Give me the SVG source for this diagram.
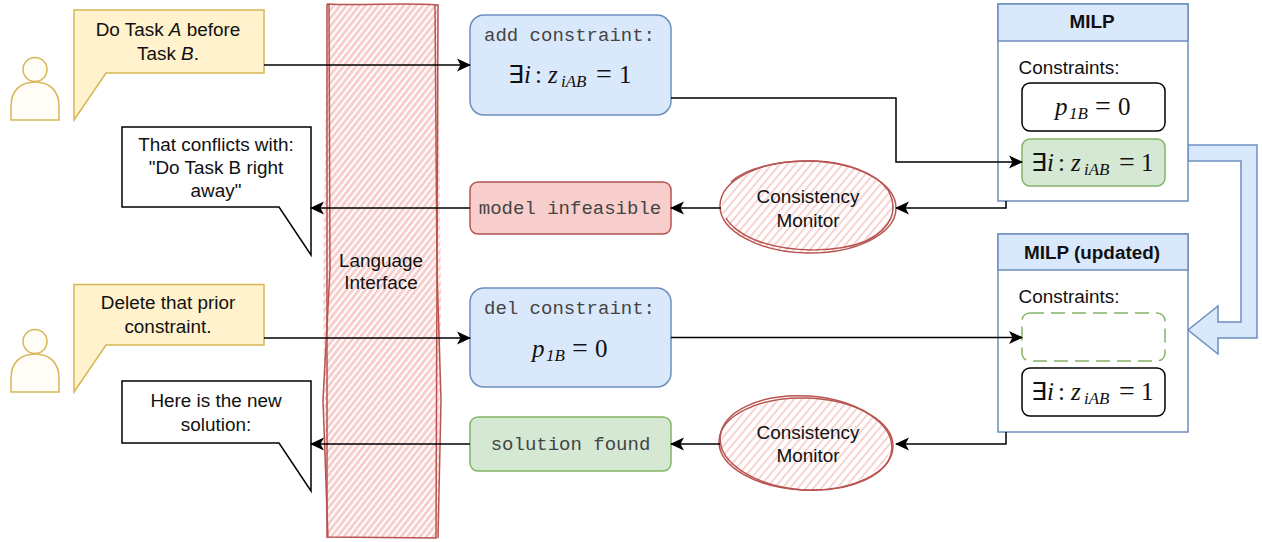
<svg xmlns="http://www.w3.org/2000/svg" width="1262" height="542" viewBox="0 0 1262 542">
<style>
text{font-family:"Liberation Sans",Arial,sans-serif;font-size:18.9px;fill:#111;text-anchor:middle}
.mono{font-family:"Liberation Mono","Courier New",monospace;font-size:19px;fill:#444}
.b{font-weight:700}
.m{font-family:"Liberation Serif","Times New Roman",serif;font-size:25px;text-anchor:start}
.m .i{font-style:italic}
.m .e{font-family:"DejaVu Sans",sans-serif;font-size:25px}
.m .s{font-size:17px;font-style:italic}
.m .q{font-size:28px}
.blue{fill:#dae8fc;stroke:#6c8ebf;stroke-width:1.5}
.red{fill:#f8cecc;stroke:#b85450;stroke-width:1.5}
.green{fill:#d5e8d4;stroke:#82b366;stroke-width:1.5}
.yellow{fill:#fff2cc;stroke:#d6b656;stroke-width:1.5}
.black{fill:#fff;stroke:#000;stroke-width:1.5}
.person{fill:#fffdf6;stroke:#d6b656;stroke-width:1.5}
.sk{fill:none;stroke:#b85450;stroke-width:1.5}
.c{fill:none;stroke:#000;stroke-width:1.5;marker-end:url(#a)}
</style>
<defs>
<marker id="a" markerUnits="userSpaceOnUse" markerWidth="16" markerHeight="16" refX="13" refY="7.5" orient="auto"><path d="M0 1 L14 7.500 L0 14 L3.500 7.500Z" fill="#000"/></marker>
<pattern id="h" width="5" height="5" patternUnits="userSpaceOnUse" patternTransform="rotate(-52)"><rect width="5" height="5" fill="#fff"/><rect width="5" height="2.900" fill="#f8cecc"/></pattern>
<pattern id="h2" width="6" height="6" patternUnits="userSpaceOnUse" patternTransform="rotate(-50)"><rect width="6" height="6" fill="#fff"/><rect width="6" height="1.800" fill="#f8cecc"/></pattern>
</defs>

<g id="language-interface">
<path d="M327 5 L438 4 L441 300 L438 538 L326 538 L323 300Z" fill="url(#h)"/>
<path class="sk" d="M327 4 C365 6 400 2 438 5 L436 538 L327 537 L327 4"/>
<path class="sk" d="M329 5 L330 270 L323 400 L328 538 M435 5 L437 270 L441 400 L438 538"/>
<text x="381" y="267">Language</text><text x="381" y="289">Interface</text>
</g>

<g id="person-1">
<path class="person" d="M11 120V106C11 91 20 82 35 82C50 82 59 91 59 106V120Z"/>
<circle class="person" cx="35" cy="69.500" r="12"/>
</g>
<g id="callout-1">
<path class="yellow" d="M74 10H264V73H106L74 120Z"/>
<text x="168" y="36">Do Task <tspan font-style="italic">A</tspan> before</text>
<text x="168" y="60">Task <tspan font-style="italic">B</tspan>.</text>
</g>
<g id="callout-2">
<path class="black" d="M122 127H311V255L279 207H122Z"/>
<text x="216" y="151">That conflicts with:</text>
<text x="216" y="173.500">"Do Task B right</text>
<text x="216" y="197">away"</text>
</g>
<g id="person-2">
<path class="person" d="M11 392V378C11 363 20 354 35 354C50 354 59 363 59 378V392Z"/>
<circle class="person" cx="35" cy="341.500" r="12"/>
</g>
<g id="callout-3">
<path class="yellow" d="M74 284.500H264V345H106L74 392Z"/>
<text x="168" y="309">Delete that prior</text>
<text x="168" y="333">constraint.</text>
</g>
<g id="callout-4">
<path class="black" d="M122 381H311V491L279 443H122Z"/>
<text x="216" y="407">Here is the new</text>
<text x="216" y="431">solution:</text>
</g>

<g id="add-constraint">
<rect class="blue" x="470" y="15" width="201" height="100" rx="14"/>
<text class="mono" x="569.500" y="41">add constraint:</text>
<text class="m" y="83"><tspan class="e" x="508">∃</tspan><tspan class="i" x="524">i</tspan><tspan x="535">:</tspan><tspan class="i" x="548">z</tspan><tspan class="s" x="561" y="87">iAB</tspan><tspan class="q" x="596" y="83">=</tspan><tspan x="619">1</tspan></text>
</g>
<g id="model-infeasible">
<rect class="red" x="470" y="182" width="201" height="52" rx="8"/>
<text class="mono" x="570" y="214">model infeasible</text>
</g>
<g id="del-constraint">
<rect class="blue" x="470" y="288" width="201" height="99" rx="14"/>
<text class="mono" x="569.500" y="314">del constraint:</text>
<text class="m" y="357"><tspan class="i" x="532">p</tspan><tspan class="s" x="546" y="361">1B</tspan><tspan class="q" x="572" y="357">=</tspan><tspan x="595">0</tspan></text>
</g>
<g id="solution-found">
<rect class="green" x="470" y="417" width="201" height="54" rx="8"/>
<text class="mono" x="570.500" y="450">solution found</text>
</g>

<g id="monitor-1">
<ellipse cx="808" cy="207" rx="86" ry="46" fill="url(#h2)"/>
<ellipse class="sk" cx="808" cy="207" rx="88" ry="46" transform="rotate(1 808 207)"/>
<path class="sk" d="M731 182C745 168 780 160 815 161C845 162 875 172 888 190C899 210 892 228 866 241C840 252 790 254 755 240C740 234 730 225 726 218"/>
<text x="808" y="203">Consistency</text><text x="808" y="227">Monitor</text>
</g>
<g id="monitor-2">
<ellipse cx="806" cy="444" rx="85" ry="46" fill="url(#h2)"/>
<ellipse class="sk" cx="806" cy="444" rx="87" ry="46" transform="rotate(2 806 444)"/>
<ellipse class="sk" cx="806" cy="443" rx="86" ry="47" transform="rotate(4 806 443)"/>
<text x="808" y="439">Consistency</text><text x="808" y="462">Monitor</text>
</g>

<g id="flow-arrow">
<path class="blue" d="M1188 145H1257V338H1218V354L1188 330L1218 306V322H1241V161H1188Z"/>
</g>

<g id="milp">
<rect x="998" y="4" width="190" height="197" fill="#fff" stroke="#6c8ebf" stroke-width="1.500"/>
<rect class="blue" x="998" y="4" width="190" height="37"/>
<text class="b" x="1092" y="28">MILP</text>
<text x="1069" y="74">Constraints:</text>
<rect class="black" x="1022" y="83" width="143" height="48" rx="8"/>
<text class="m" y="115"><tspan class="i" x="1055">p</tspan><tspan class="s" x="1069" y="119">1B</tspan><tspan class="q" x="1095" y="115">=</tspan><tspan x="1118">0</tspan></text>
<rect class="green" x="1022" y="139" width="143" height="47" rx="8"/>
<text class="m" y="171"><tspan class="e" x="1031">∃</tspan><tspan class="i" x="1047">i</tspan><tspan x="1058">:</tspan><tspan class="i" x="1071">z</tspan><tspan class="s" x="1084" y="175">iAB</tspan><tspan class="q" x="1119" y="171">=</tspan><tspan x="1141">1</tspan></text>
</g>
<g id="milp-updated">
<rect x="998" y="234" width="190" height="198" fill="#fff" stroke="#6c8ebf" stroke-width="1.500"/>
<rect class="blue" x="998" y="234" width="190" height="36"/>
<text class="b" x="1092" y="259">MILP (updated)</text>
<text x="1069" y="303">Constraints:</text>
<rect x="1022" y="313" width="143" height="48" rx="8" fill="#fff" stroke="#82b366" stroke-width="1.500" stroke-dasharray="14 7"/>
<rect class="black" x="1022" y="368" width="143" height="48" rx="8"/>
<text class="m" y="400"><tspan class="e" x="1031">∃</tspan><tspan class="i" x="1047">i</tspan><tspan x="1058">:</tspan><tspan class="i" x="1071">z</tspan><tspan class="s" x="1084" y="404">iAB</tspan><tspan class="q" x="1119" y="400">=</tspan><tspan x="1141">1</tspan></text>
</g>

<g id="connectors">
<path class="c" d="M264 65H470"/>
<path class="c" d="M671 98H896V162H1022"/>
<path class="c" d="M1006 201V208H896"/>
<path class="c" d="M721 208H671"/>
<path class="c" d="M470 208H311"/>
<path class="c" d="M264 338H470"/>
<path class="c" d="M671 337.500H1022"/>
<path class="c" d="M1006 432V444H896"/>
<path class="c" d="M720 444H671"/>
<path class="c" d="M470 444H311"/>
</g>
</svg>
